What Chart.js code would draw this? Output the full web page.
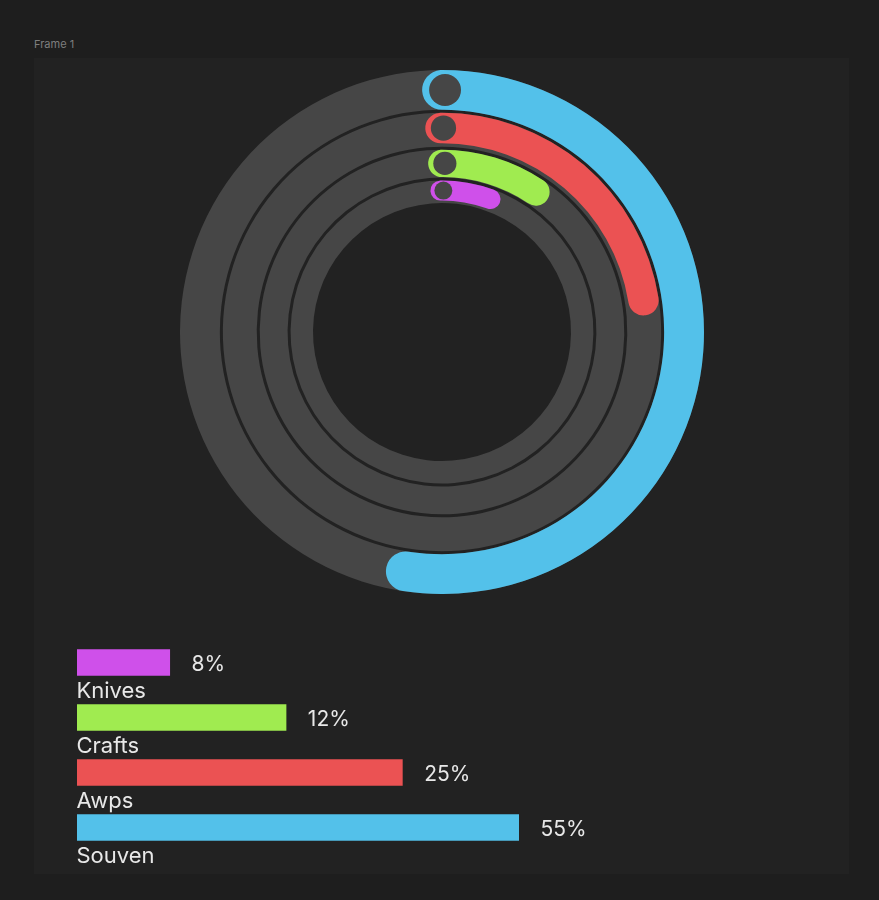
<!DOCTYPE html>
<html>
<head>
<meta charset="utf-8">
<script src="https://cdn.jsdelivr.net/npm/chart.js@4.4.0/dist/chart.umd.min.js"></script>
<style>
  html, body { margin: 0; padding: 0; background: #1e1e1e; }
  body { width: 879px; height: 900px; position: relative; overflow: hidden; font-family: Inter, sans-serif; }
  #frameLabel { position: absolute; left: 34px; top: 37px; font-size: 11px; color: #7e7e7e; }
  #frame { position: absolute; left: 34px; top: 58px; width: 815px; height: 816px; background: #222222; }
  canvas { position: absolute; }
  #rings, #arcs { left: 180px; top: 70px; }
  #bars { left: 77px; top: 635px; }
</style>
</head>
<body>
<div id="frameLabel">Frame 1</div>
<div id="frame"></div>
<canvas id="rings" width="524" height="524"></canvas>
<canvas id="arcs" width="524" height="524"></canvas>
<canvas id="bars" width="560" height="245"></canvas>
<script>
// legend order, top to bottom
const categories = ['Knives', 'Crafts', 'Awps', 'Souven']
const shares = [8, 12, 25, 55]
const colors = ['#cf50ea', '#a0eb50', '#eb5253', '#53c1ea']
// legend bars are not proportional to the share, they just step up
const legendBarLengths = [8, 18, 28, 38]

const TRACK = '#464646'
const GAP = 'rgba(0,0,0,0)'

// ring thickness, outermost ring first (Souven ... Knives)
const trackWeights = [40, 34, 28, 22.5]
const arcWeights = [40, 30.5, 27.5, 20]
const arcGaps = [3, 6.5, 3.5, 2.5]

const common = {
  responsive: false,
  animation: false,
  events: [],
  rotation: -4.7,
  cutout: 129,
  layout: { padding: 0 },
  plugins: { legend: { display: false }, tooltip: { enabled: false } },
}

function spacer(w) {
  return { data: [100], backgroundColor: GAP, borderWidth: 0, weight: w }
}

// gray tracks behind
const trackSets = []
trackWeights.forEach((w, i) => {
  trackSets.push({ data: [100], backgroundColor: TRACK, borderWidth: 0, weight: w })
  if (i < trackWeights.length - 1) trackSets.push(spacer(3))
})

new Chart(document.getElementById('rings'), {
  type: 'doughnut',
  data: { datasets: trackSets },
  options: common,
})

// coloured share arcs, outermost = last category
const arcSets = []
for (let k = 0; k < categories.length; k++) {
  const i = categories.length - 1 - k
  arcSets.push({
    label: categories[i],
    data: [shares[i], 100 - shares[i]],
    backgroundColor: [colors[i], GAP],
    borderWidth: 0,
    borderRadius: 30,
    weight: arcWeights[k],
    isShare: true,
  })
  arcSets.push(spacer(arcGaps[k]))
}

// gray dot sitting in the start cap of every arc
const knobs = {
  id: 'knobs',
  afterDatasetsDraw(chart) {
    const ctx = chart.ctx
    chart.data.datasets.forEach((ds, i) => {
      if (!ds.isShare) return
      const arc = chart.getDatasetMeta(i).data[0]
      const {x, y, startAngle, innerRadius, outerRadius} =
        arc.getProps(['x', 'y', 'startAngle', 'innerRadius', 'outerRadius'], true)
      const half = (outerRadius - innerRadius) / 2
      const mid = innerRadius + half
      const a = startAngle + (half + 3) / mid
      ctx.save()
      ctx.fillStyle = TRACK
      ctx.beginPath()
      ctx.arc(x + mid * Math.cos(a), y + mid * Math.sin(a), half * 0.7 + 2, 0, Math.PI * 2)
      ctx.fill()
      ctx.restore()
    })
  },
}

new Chart(document.getElementById('arcs'), {
  type: 'doughnut',
  data: { datasets: arcSets },
  options: common,
  plugins: [knobs],
})

// legend: bars with percent on the right and name underneath
const barLabels = {
  id: 'barLabels',
  afterDatasetsDraw(chart) {
    const ctx = chart.ctx
    const bars = chart.getDatasetMeta(0).data
    ctx.save()
    ctx.fillStyle = '#e8e8e8'
    ctx.textBaseline = 'alphabetic'
    ctx.textAlign = 'left'
    bars.forEach((bar, i) => {
      ctx.font = '21px Inter'
      ctx.fillText(shares[i] + '%', bar.x + 21.5, bar.y + 8.8)
      ctx.font = '22px Inter'
      ctx.fillText(categories[i], bar.base - 0.5, bar.y + 35.8)
    })
    ctx.restore()
  },
}

new Chart(document.getElementById('bars'), {
  type: 'bar',
  data: {
    labels: categories,
    datasets: [{
      data: legendBarLengths,
      backgroundColor: colors,
      borderWidth: 0,
      barPercentage: 0.48,
      categoryPercentage: 1,
    }],
  },
  options: {
    indexAxis: 'y',
    responsive: false,
    animation: false,
    events: [],
    layout: { padding: { right: 118, bottom: 25 } },
    scales: {
      x: { display: false, min: 0, max: 38 },
      y: { display: false },
    },
    plugins: { legend: { display: false }, tooltip: { enabled: false } },
  },
  plugins: [barLabels],
})
</script>
</body>
</html>
